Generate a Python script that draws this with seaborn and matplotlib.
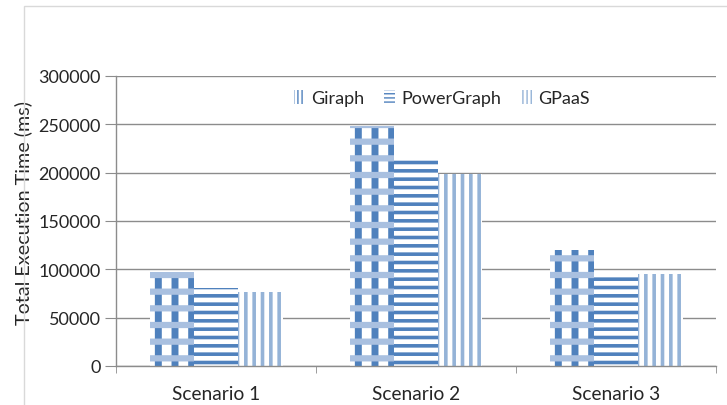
import matplotlib
matplotlib.use("Agg")
import matplotlib.pyplot as plt
import seaborn as sns
import pandas as pd
from matplotlib.patches import Rectangle, Patch

scenarios = ["Scenario 1", "Scenario 2", "Scenario 3"]
systems = ["Giraph", "PowerGraph", "GPaaS"]
giraph = [97500, 248000, 119500]
powergraph = [80500, 216500, 92500]
gpaas = [77000, 199000, 95000]
yticks = [0, 50000, 100000, 150000, 200000, 250000, 300000]

df = pd.DataFrame({
    "Scenario": scenarios * 3,
    "System": [s for s in systems for _ in scenarios],
    "Time": giraph + powergraph + gpaas,
})

sns.set_style("white")
plt.rcParams['font.family'] = ['Lato', 'DejaVu Sans']

fig = plt.figure(figsize=(7.27, 4.06), dpi=100)
ax = fig.add_axes([116/727, 1-367/406, 600/727, 290/406])

blue = "#4F81BD"
light = "#95B3D7"
check = "#A9C0E0"

# base layer
sns.barplot(data=df, x="Scenario", y="Time", hue="System", ax=ax,
            width=0.665, dodge=True, gap=0, legend=False, saturation=1)
# overlay layer (for the checked bands of Giraph)
sns.barplot(data=df, x="Scenario", y="Time", hue="System", ax=ax,
            width=0.665, dodge=True, gap=0, legend=False, saturation=1)

def style(p, fc, ec, hatch, lw):
    p.set_facecolor(fc)
    p.set_edgecolor(ec)
    p.set_hatch(hatch)
    p.set_linewidth(0)
    try:
        p.set_hatch_linewidth(lw)
    except AttributeError:
        pass

base_specs = [("white", blue, "|", 5.0), ("white", blue, "--", 2.6), ("white", light, "||", 2.6)]
over_specs = [("none", check, "-", 4.5), None, None]
conts = ax.containers
for i in range(3):
    for bar in conts[i]:
        style(bar, *base_specs[i])
for i in range(3):
    for bar in conts[3 + i]:
        if over_specs[i] is None:
            bar.set_visible(False)
        else:
            style(bar, *over_specs[i])

ax.set_ylim(0, 300000)
ax.set_xlim(-0.5, 2.5)
ax.set_yticks(yticks)
ax.set_yticklabels([str(v) for v in yticks], fontsize=13)
ax.yaxis.grid(True, color="#8c8c8c", linewidth=1)
ax.set_axisbelow(True)
ax.set_xlabel("")
ax.tick_params(axis="x", labelsize=13.8, length=0, pad=14)
ax.tick_params(axis="y", length=8, color="#8c8c8c", direction="out", left=True, pad=3)
ax.set_xticks([0, 1, 2])
ax.set_xticks([-0.5, 0.5, 1.5, 2.5], minor=True)
ax.tick_params(axis="x", which="minor", length=5, color="#8c8c8c", direction="out", bottom=True)
for s in ["top", "right"]:
    ax.spines[s].set_visible(False)
for s in ["left", "bottom"]:
    ax.spines[s].set_color("#8c8c8c")
    ax.spines[s].set_linewidth(1)

leg_specs = [("white", blue, "||||", 3.0), ("white", blue, "----", 2.5), ("white", light, "||||", 2.0)]
handles = []
for i in range(3):
    p = Patch(label=systems[i])
    style(p, *leg_specs[i])
    handles.append(p)
leg = fig.legend(handles=handles, loc="center", bbox_to_anchor=(442/727, 1-99/406), ncol=3,
                 frameon=False, fontsize=13, handlelength=0.6, handleheight=0.8,
                 columnspacing=1.1, handletextpad=0.35)

fig.patches.append(Rectangle((24/727, -0.1), 1.2, 1-7/406+0.1, transform=fig.transFigure,
                             fill=False, edgecolor="#d9d9d9", linewidth=1))

ax.set_ylabel("Total Execution Time (ms)", fontsize=14.2)
ax.yaxis.set_label_coords((32-116)/600, (367-213)/290)
fig.savefig("out.png", dpi=100)
